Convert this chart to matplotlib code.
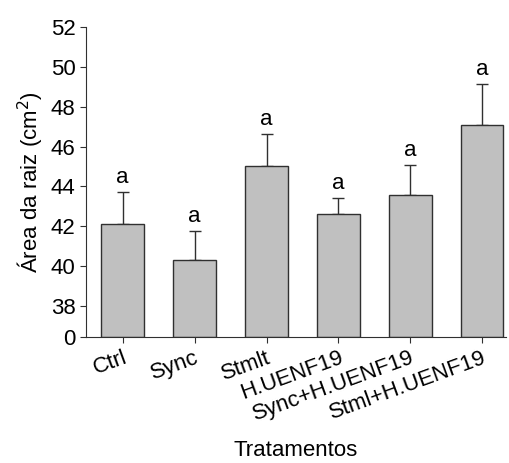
import numpy as np
import matplotlib
matplotlib.use("Agg")
import matplotlib.pyplot as plt

plt.rcParams['font.family'] = ['Liberation Sans', 'DejaVu Sans']

tratamentos = ["Ctrl", "Sync", "Stmlt", "H.UENF19", "Sync+H.UENF19", "Stml+H.UENF19"]
area = [42.13, 40.29, 45.04, 42.60, 43.57, 47.08]
erro = [1.58, 1.47, 1.59, 0.84, 1.52, 2.04]
letras = ["a", "a", "a", "a", "a", "a"]
y_ticks = [36.45, 38, 40, 42, 44, 46, 48, 50, 52]
y_labels = ["0", "38", "40", "42", "44", "46", "48", "50", "52"]

fs = 16
fig = plt.figure(figsize=(5.09, 4.63), dpi=100)
ax = fig.add_axes([0.169, 0.272, 0.825, 0.67])

x = np.arange(len(tratamentos))
bottom = y_ticks[0]
ax.bar(x, np.array(area) - bottom, bottom=bottom, width=0.59, color='#c0c0c0',
       edgecolor='#303030', linewidth=1.0, zorder=2)
ax.errorbar(x, area, yerr=[np.zeros(len(erro)), erro], fmt='none', ecolor='#303030',
            elinewidth=1.0, capsize=4, capthick=1.0, zorder=1)
for xi, a, e, l in zip(x, area, erro, letras):
    ax.text(xi, a + e + 0.2, l, ha='center', va='bottom', fontsize=fs)

ax.set_ylim(bottom, 52)
ax.set_xlim(-0.51, 5.33)
ax.set_yticks(y_ticks)
ax.set_yticklabels(y_labels, fontsize=fs)
ax.set_xticks(x)
ax.set_xticklabels(tratamentos, fontsize=fs, rotation=20, ha='right', va='top',
                   rotation_mode='anchor')
ax.spines['top'].set_visible(False)
ax.spines['right'].set_visible(False)
for s in ['left', 'bottom']:
    ax.spines[s].set_color('#303030')
ax.tick_params(direction='out', length=4, color='#303030')
ax.set_ylabel("Área da raiz (cm$^2$)", fontsize=fs)
ax.set_xlabel("Tratamentos", fontsize=fs)
ax.xaxis.set_label_coords(0.5, -0.332)

fig.savefig("out.png", dpi=100)
